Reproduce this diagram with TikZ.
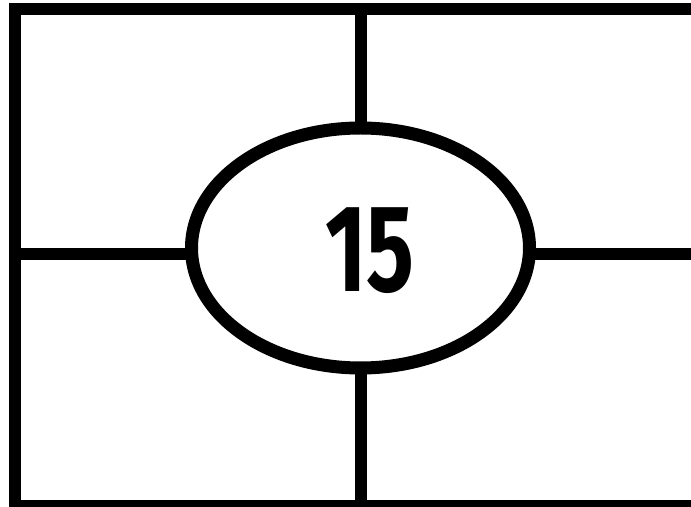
\documentclass[tikz,border=0pt]{standalone}
\usepackage{fontspec}
\setmainfont{Fira Sans}
\usetikzlibrary{shapes.geometric}

\begin{document}
\begin{tikzpicture}[
    x=0.5pt, y=-0.5pt,
    frameline/.style={draw=black, line width=6pt},
    ovalbox/.style={ellipse, draw=black, fill=white, line width=6.5pt, minimum width=169pt, minimum height=120pt, inner sep=0pt},
    numtext/.style={font=\fontsize{62}{62}\selectfont\bfseries, inner sep=0pt, xscale=0.72, transform shape}
]
\useasboundingbox (0,0) rectangle (691,507);

% frame and cross lines
\coordinate (tl) at (15,9.5);
\coordinate (br) at (706,506);
\coordinate (midtop) at (360.5,9.5);
\coordinate (midbot) at (360.5,506);
\coordinate (midlft) at (15,254);
\coordinate (midrgt) at (706,254);

\draw[frameline] (tl) rectangle (br);
\draw[frameline] (midtop) -- (midbot);
\draw[frameline] (midlft) -- (midrgt);

% centre oval
\node[ovalbox] (oval) at (360.5,248) {};
\node[numtext] (num) at (370,251) {15};

\end{tikzpicture}
\end{document}
